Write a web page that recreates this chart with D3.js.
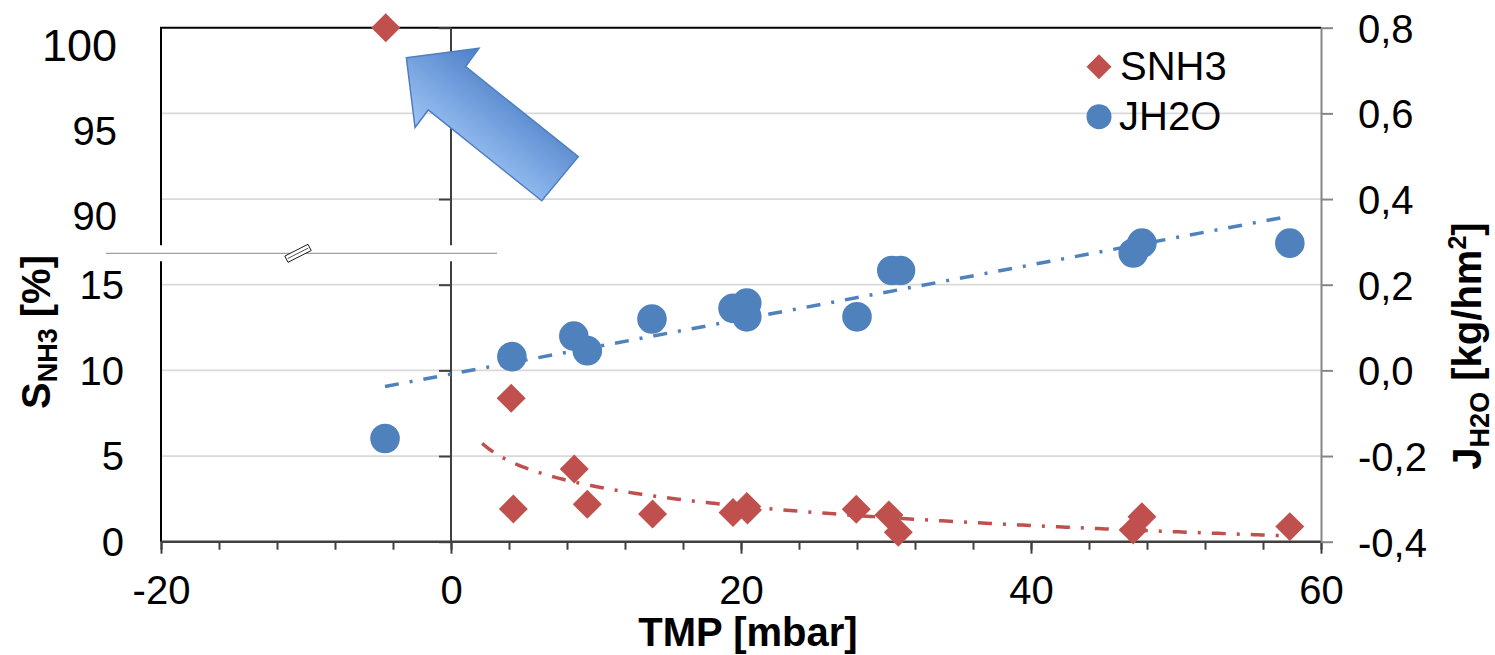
<!DOCTYPE html>
<meta charset="utf-8">
<style>
body { margin: 0; background: #fff; }
svg text { font-family: "Liberation Sans", Arial, sans-serif; fill: #000; }
.grid line { stroke: #d9d9d9; stroke-width: 1.8px; }
</style>
<svg width="1495" height="655"></svg>
<script src="https://d3js.org/d3.v7.min.js"></script>
<script>

// SNH3 [%] (left axis), red diamonds
var snh3Tmp = [-4.5, 4.15, 4.3, 8.5, 9.4, 13.9, 19.45, 20.4, 20.45, 27.95, 30.2, 30.85, 47.05, 47.65, 57.85];
var snh3    = [100, 8.37, 1.91, 4.24, 2.18, 1.62, 1.7, 2.05, 1.85, 1.89, 1.56, 0.55, 0.68, 1.46, 0.88];

// JH2O [kg/hm2] (right axis), blue circles
var jh2oTmp = [-4.55, 4.2, 8.47, 9.4, 13.86, 19.45, 20.4, 20.4, 28.0, 30.4, 31.0, 47.05, 47.65, 57.85];
var jh2o    = [-0.159, 0.032, 0.080, 0.046, 0.120, 0.145, 0.157, 0.125, 0.125, 0.233, 0.233, 0.274, 0.297, 0.297];

var xTicks = [-20, 0, 20, 40, 60];
var jTicks = [-0.4, -0.2, 0, 0.2, 0.4, 0.6, 0.8];
var sTicksLow = [0, 5, 10, 15];
var sTicksHigh = [100, 95, 90];

// block arrow annotation, in (TMP, JH2O) units
var arrowPts = [[-3.08, 0.730], [1.93, 0.752], [1.01, 0.709], [8.78, 0.499], [6.26, 0.396], [-1.57, 0.608], [-2.48, 0.567]];

var svg = d3.select("svg");
var pL = 161, pR = 1321, pT = 27.7, pB = 541.7;
var breakY = 253.3, gap = 8;

var x = d3.scaleLinear().domain([-20, 60]).range([pL, pR]);
var yJ = d3.scaleLinear().domain([-0.4, 0.8]).range([pB, pT]);
// broken left axis: 0..15 below, 90..100 above
var yS = d3.scaleLinear().domain([0, 15, 90, 100]).range([yJ(-0.4), yJ(0.2), yJ(0.4), yJ(0.8)]);

var red = "#c0504d", blue = "#4f81bd";

// gridlines
svg.append("g").attr("class", "grid")
  .selectAll("line").data(jTicks.slice(1, -1)).enter().append("line")
  .attr("x1", pL).attr("x2", pR)
  .attr("y1", function(d) { return yJ(d); }).attr("y2", function(d) { return yJ(d); });

// plot frame (top + left, left one broken)
svg.append("line").attr("x1", pL - 1).attr("x2", pR).attr("y1", pT).attr("y2", pT)
  .attr("stroke", "#000").attr("stroke-width", 2);
[[pT, breakY - gap], [breakY + gap, pB]].forEach(function(s) {
  svg.append("line").attr("x1", pL).attr("x2", pL).attr("y1", s[0]).attr("y2", s[1])
    .attr("stroke", "#000").attr("stroke-width", 2);
  svg.append("line").attr("x1", x(0)).attr("x2", x(0)).attr("y1", s[0]).attr("y2", s[1])
    .attr("stroke", "#404040").attr("stroke-width", 2);
});

// left axis ticks at TMP = 0
var ax = svg.append("g").attr("transform", "translate(" + x(0) + ",0)")
  .call(d3.axisLeft(yS).tickValues(sTicksLow.concat(sTicksHigh)).tickSize(12).tickFormat(""));
ax.select(".domain").remove();
ax.selectAll("line").attr("stroke", "#404040").attr("stroke-width", 2);

// left labels
svg.append("g").selectAll("text").data(sTicksLow).enter().append("text")
  .attr("x", 124).attr("y", function(d) { return yS(d); }).attr("dy", "0.36em")
  .attr("text-anchor", "end").style("font-size", "40px").text(function(d) { return d; });
svg.append("g").selectAll("text").data(sTicksHigh).enter().append("text")
  .attr("x", 117).attr("y", function(d) { return yS(d) + 17; }).attr("dy", "0.36em")
  .attr("text-anchor", "end").style("font-size", function(d) { return d == 100 ? "45px" : "40px"; })
  .text(function(d) { return d; });

// bottom axis
var xMinor = svg.append("g").attr("transform", "translate(0," + pB + ")")
  .call(d3.axisBottom(x).tickValues(d3.range(-20, 61, 4)).tickSize(8).tickFormat(""));
xMinor.select(".domain").remove();
xMinor.selectAll("line").attr("stroke", "#404040").attr("stroke-width", 2);
var xMajor = svg.append("g").attr("transform", "translate(0," + pB + ")")
  .call(d3.axisBottom(x).tickValues(xTicks).tickSize(12).tickPadding(22)
    .tickFormat(function(d) { return String(d); }));
xMajor.select(".domain").remove();
xMajor.selectAll("line").attr("stroke", "#404040").attr("stroke-width", 2);
xMajor.attr("font-family", null).attr("font-size", null);
xMajor.selectAll("text").style("font-size", "40px");
svg.append("line").attr("x1", pL).attr("x2", pR).attr("y1", pB).attr("y2", pB)
  .attr("stroke", "#404040").attr("stroke-width", 2.5);

// right axis
var yr = svg.append("g").attr("transform", "translate(" + pR + ",0)")
  .call(d3.axisRight(yJ).tickValues(jTicks).tickSize(12).tickSizeOuter(0).tickPadding(25)
    .tickFormat(function(d) { return d.toFixed(1).replace(".", ","); }));
yr.attr("font-family", null).attr("font-size", null);
yr.select(".domain").attr("stroke", "#868686").attr("stroke-width", 2);
yr.selectAll("line").attr("stroke", "#868686").attr("stroke-width", 2);
yr.selectAll("text").style("font-size", "40px").attr("dy", "0.36em");

// axis break
svg.append("line").attr("x1", 106).attr("x2", 497).attr("y1", breakY).attr("y2", breakY)
  .attr("stroke", "#a0a0a0").attr("stroke-width", 1.2);
var bk = svg.append("g").attr("transform", "translate(298," + breakY + ") rotate(-27)");
bk.append("rect").attr("x", -13).attr("y", -3.5).attr("width", 26).attr("height", 7)
  .attr("fill", "#fff").attr("stroke", "#000").attr("stroke-width", 0.8);
bk.append("line").attr("x1", -11.5).attr("x2", 11.5).attr("y1", 0).attr("y2", 0)
  .attr("stroke", "#000").attr("stroke-width", 0.6);

// markers
svg.append("g").selectAll("path").data(d3.zip(snh3Tmp, snh3)).enter().append("path")
  .attr("d", d3.symbol(d3.symbolSquare, 420))
  .attr("transform", function(d) { return "translate(" + x(d[0]) + "," + yS(d[1]) + ") rotate(45)"; })
  .attr("fill", red);
svg.append("g").selectAll("circle").data(d3.zip(jh2oTmp, jh2o)).enter().append("circle")
  .attr("cx", function(d) { return x(d[0]); }).attr("cy", function(d) { return yJ(d[1]); })
  .attr("r", 14.8).attr("fill", blue);

// trendlines: linear fit of JH2O, log fit of SNH3 (TMP > 0)
function fit(xs, ys) {
  var mx = d3.mean(xs), my = d3.mean(ys);
  var b = d3.sum(xs, function(v, i) { return (v - mx) * (ys[i] - my); }) /
          d3.sum(xs, function(v) { return (v - mx) * (v - mx); });
  return [my - b * mx, b];
}
var lin = fit(jh2oTmp, jh2o);
var pos = d3.range(snh3Tmp.length).filter(function(i) { return snh3Tmp[i] > 0; });
var lg = fit(pos.map(function(i) { return Math.log(snh3Tmp[i]); }), pos.map(function(i) { return snh3[i]; }));

var dash = "14,11,3,11";
var xl = d3.extent(jh2oTmp);
svg.append("path")
  .attr("d", d3.line()(xl.map(function(v) { return [x(v), yJ(lin[0] + lin[1] * v)]; })))
  .attr("fill", "none").attr("stroke", blue).attr("stroke-width", 3.5).attr("stroke-dasharray", dash);
var xr = d3.range(d3.min(pos, function(i) { return snh3Tmp[i]; }) - 2, d3.max(snh3Tmp) + 0.01, 0.25);
svg.append("path")
  .attr("d", d3.line()(xr.map(function(v) { return [x(v), yS(lg[0] + lg[1] * Math.log(v))]; })))
  .attr("fill", "none").attr("stroke", red).attr("stroke-width", 3.5).attr("stroke-dasharray", dash);

// arrow
var grad = svg.append("defs").append("linearGradient").attr("id", "ag")
  .attr("gradientUnits", "userSpaceOnUse")
  .attr("x1", 455).attr("y1", 170).attr("x2", 525).attr("y2", 80);
grad.append("stop").attr("offset", 0).attr("stop-color", "#a6cbfa");
grad.append("stop").attr("offset", 1).attr("stop-color", "#4a7dc6");
svg.append("path")
  .attr("d", d3.line()(arrowPts.map(function(p) { return [x(p[0]), yJ(p[1])]; })) + "Z")
  .attr("fill", "url(#ag)").attr("stroke", "#4f7fc0").attr("stroke-width", 1.5);

// legend
svg.append("path").attr("d", d3.symbol(d3.symbolSquare, 312))
  .attr("transform", "translate(1099,66.7) rotate(45)").attr("fill", red);
svg.append("circle").attr("cx", 1099).attr("cy", 116.7).attr("r", 12.5).attr("fill", blue);
svg.append("text").attr("x", 1120).attr("y", 80).style("font-size", "40px").text("SNH3");
svg.append("text").attr("x", 1119).attr("y", 129.5).style("font-size", "40px").text("JH2O");

// axis titles
svg.append("text").attr("x", 748).attr("y", 646).attr("text-anchor", "middle")
  .style("font-size", "40px").style("font-weight", "bold").text("TMP [mbar]");

var lt = svg.append("text").attr("transform", "translate(50,332) rotate(-90)")
  .attr("text-anchor", "middle").style("font-size", "40px").style("font-weight", "bold");
lt.append("tspan").text("S");
lt.append("tspan").attr("dy", 7).style("font-size", "27px").text("NH3");
lt.append("tspan").attr("dy", -7).text(" [%]");

var rt = svg.append("text").attr("transform", "translate(1481,346) rotate(-90)")
  .attr("text-anchor", "middle").style("font-size", "40px").style("font-weight", "bold");
rt.append("tspan").text("J");
rt.append("tspan").attr("dy", 8).style("font-size", "27px").text("H2O");
rt.append("tspan").attr("dy", -8).text(" [kg/hm");
rt.append("tspan").attr("dy", -15).style("font-size", "25px").text("2");
rt.append("tspan").attr("dy", 15).text("]");

</script>
